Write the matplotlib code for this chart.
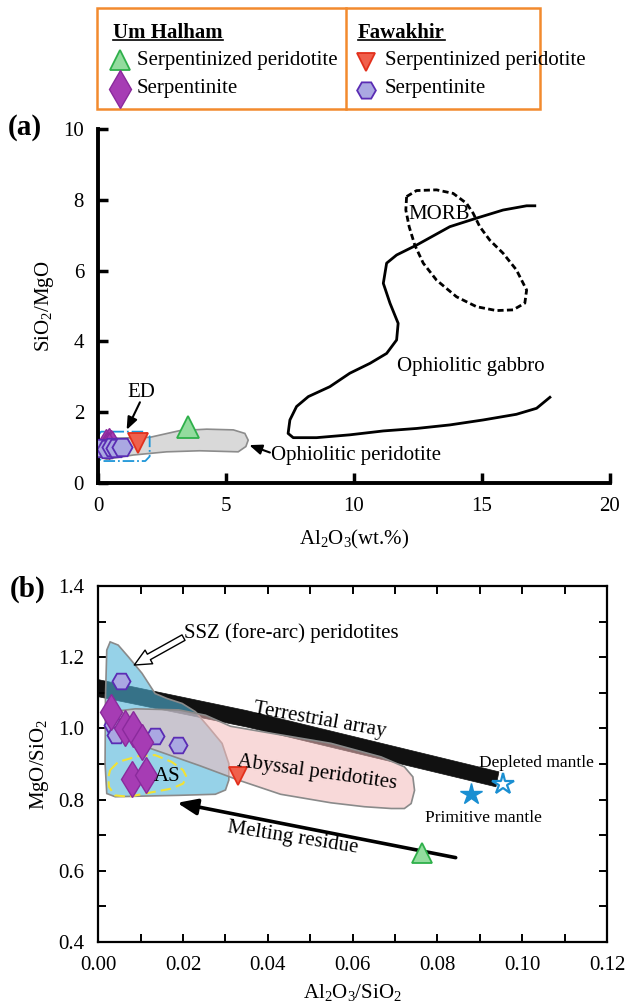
import matplotlib
matplotlib.use("Agg")
import matplotlib.pyplot as plt
from matplotlib.patches import Polygon, Rectangle
from matplotlib.lines import Line2D

plt.rcParams["font.family"] = ["Liberation Serif", "DejaVu Serif"]
plt.rcParams["mathtext.fontset"] = "custom"
plt.rcParams["mathtext.rm"] = "Liberation Serif"
plt.rcParams["mathtext.it"] = "Liberation Serif:italic"
plt.rcParams["font.size"] = 15

# ---- marker styles ----
GREEN_TRI = dict(marker="^", mfc="#93dc9e", mec="#2eb04a", mew=1.3)
RED_TRI = dict(marker="v", mfc="#f0604c", mec="#e2301c", mew=1.3)
DIAMOND = dict(marker="d", mfc="#a63cb4", mec="#8a2a9c", mew=1.0)
HEXAGON = dict(marker="H", mfc="#aaa8e2", mec="#5a2cb4", mew=1.3)

# ---- panel (a) data: Al2O3 (wt.%) vs SiO2/MgO ----
uh_sp_a_x = [3.5]
uh_sp_a_y = [1.58]
fw_sp_a_x = [1.55]
fw_sp_a_y = [1.13]
uh_s_a_x = [0.32, 0.42, 0.50, 0.38, 0.55, 0.45]
uh_s_a_y = [1.16, 1.18, 1.13, 1.08, 1.10, 1.05]
fw_s_a_x = [0.15, 0.35, 0.55, 0.72, 0.95]
fw_s_a_y = [0.98, 0.95, 1.03, 0.98, 1.03]

# fields
oph_perid_x = [0.08, 0.47, 2.03, 3.20, 4.25, 5.29, 5.74, 5.87, 5.78, 5.48, 3.98, 2.68, 1.38, 0.34, 0.08]
oph_perid_y = [1.12, 1.26, 1.29, 1.48, 1.52, 1.50, 1.40, 1.21, 1.03, 0.88, 0.91, 0.88, 0.79, 0.67, 0.74]
ed_x = [0.0, 0.0, 0.12, 1.82, 2.02, 2.02, 1.85, 0.15, 0.0]
ed_y = [0.72, 1.33, 1.45, 1.45, 1.32, 0.75, 0.62, 0.62, 0.72]
gabbro_x = [17.07, 16.75, 15.83, 14.79, 13.75, 12.45, 11.67, 11.28, 11.15, 11.41, 11.73, 11.67,
            11.28, 10.63, 9.84, 9.06, 8.22, 7.76, 7.50, 7.43, 7.63, 8.54, 9.84, 11.15, 12.45,
            13.75, 15.05, 16.35, 17.14, 17.66]
gabbro_y = [7.83, 7.83, 7.71, 7.48, 7.24, 6.72, 6.44, 6.21, 5.64, 5.08, 4.51, 4.04,
            3.66, 3.38, 3.10, 2.72, 2.44, 2.16, 1.78, 1.40, 1.28, 1.28, 1.36, 1.47, 1.54,
            1.64, 1.78, 1.94, 2.11, 2.42]
morb_x = [12.06, 12.45, 13.23, 13.88, 14.40, 14.66, 14.92, 15.31, 15.83, 16.35, 16.75, 16.68,
          16.22, 15.57, 14.79, 14.01, 13.23, 12.71, 12.38, 12.16, 12.03, 12.06]
morb_y = [8.09, 8.26, 8.28, 8.18, 7.90, 7.62, 7.24, 6.86, 6.49, 6.02, 5.45, 5.08,
          4.89, 4.87, 4.98, 5.26, 5.73, 6.21, 6.72, 7.24, 7.71, 8.09]

# ---- panel (b) data: Al2O3/SiO2 vs MgO/SiO2 ----
uh_sp_b_x = [0.0764]
uh_sp_b_y = [0.649]
fw_sp_b_x = [0.033]
fw_sp_b_y = [0.866]
uh_s_b_x = [0.0030, 0.0064, 0.0083, 0.0103, 0.0080, 0.0112]
uh_s_b_y = [1.047, 1.002, 0.998, 0.962, 0.859, 0.870]
fw_s_b_x = [0.0054, 0.0035, 0.0041, 0.0134, 0.0189]
fw_s_b_y = [1.134, 1.010, 0.981, 0.980, 0.953]
prim_mantle = (0.0878, 0.817)
depl_mantle = (0.0955, 0.845)

ssz_x = [0.0028, 0.0047, 0.0071, 0.0103, 0.0134, 0.0162, 0.0198, 0.0229, 0.0260, 0.0292,
         0.0308, 0.0308, 0.0300, 0.0276, 0.0190, 0.0110, 0.0040, 0.0020, 0.0016, 0.0017, 0.0020]
ssz_y = [1.243, 1.234, 1.201, 1.155, 1.098, 1.084, 1.070, 1.047, 1.004, 0.958,
         0.901, 0.855, 0.827, 0.815, 0.812, 0.810, 0.808, 0.817, 0.901, 1.089, 1.220]
abyssal_x = [0.0022, 0.0028, 0.0047, 0.0087, 0.0190, 0.0253, 0.0312, 0.0390, 0.0549, 0.0667,
             0.0722, 0.0742, 0.0746, 0.0738, 0.0722, 0.0691, 0.0628, 0.0549, 0.0430, 0.0330,
             0.0240, 0.0120, 0.0040]
abyssal_y = [1.000, 1.028, 1.049, 1.055, 1.052, 1.037, 1.006, 0.990, 0.958, 0.920,
             0.892, 0.864, 0.826, 0.789, 0.775, 0.775, 0.780, 0.791, 0.815, 0.855,
             0.895, 0.945, 0.985]
terr_x = [0.0, 0.035, 0.0945, 0.0938, 0.035, 0.0]
terr_y = [1.137, 1.050, 0.878, 0.836, 1.004, 1.089]
as_x = [0.0028, 0.0047, 0.0094, 0.0134, 0.0173, 0.0200, 0.0208, 0.0200, 0.0173, 0.0110,
        0.0071, 0.0039, 0.0025, 0.0024, 0.0028]
as_y = [0.883, 0.906, 0.922, 0.925, 0.906, 0.883, 0.864, 0.845, 0.831, 0.817,
        0.808, 0.812, 0.836, 0.864, 0.883]
melt_start = (0.0843, 0.637)
melt_end = (0.0186, 0.791)

fig = plt.figure(figsize=(6.28, 10.06), dpi=100)

# ================= legend box =================
axl = fig.add_axes([0.1545, 0.8917, 0.7055, 0.1003])
axl.set_xlim(0, 1)
axl.set_ylim(0, 1)
axl.axis("off")
axl.add_patch(Rectangle((0, 0), 1, 1, fill=False, ec="#f28a2e", lw=1.8,
                        transform=axl.transAxes, clip_on=False))
axl.plot([0.562, 0.562], [0, 1], color="#f28a2e", lw=1.8, clip_on=False)
headers = []
headers.append(axl.text(0.036, 0.755, "Um Halham", fontweight="bold", va="center", ha="left"))
headers.append(axl.text(0.589, 0.755, "Fawakhir", fontweight="bold", va="center", ha="left"))
axl.plot([0.052], [0.49], ms=15, ls="none", clip_on=False, **GREEN_TRI)
axl.text(0.09, 0.48, "Serpentinized peridotite", va="center")
axl.plot([0.052], [0.20], ms=19, ls="none", clip_on=False, **DIAMOND)
axl.text(0.09, 0.20, "Serpentinite", va="center")
axl.plot([0.607], [0.47], ms=13, ls="none", clip_on=False, **RED_TRI)
axl.text(0.65, 0.48, "Serpentinized peridotite", va="center")
axl.plot([0.607], [0.19], ms=13.5, ls="none", clip_on=False, **HEXAGON)
axl.text(0.65, 0.20, "Serpentinite", va="center")

fig.canvas.draw()
renderer = fig.canvas.get_renderer()
inv = axl.transAxes.inverted()
for t in headers:
    bb = t.get_window_extent(renderer)
    (x0, y0), (x1, _) = inv.transform([(bb.x0, bb.y0 + 2.5), (bb.x1, bb.y0 + 2.5)])
    axl.add_line(Line2D([x0, x1], [y0, y0], color="black", lw=1.2))

# ================= panel (a) =================
axa = fig.add_axes([0.156, 0.5199, 0.815, 0.3519])
axa.set_xlim(0, 20)
axa.set_ylim(0, 10)
axa.set_xticks([0, 5, 10, 15, 20])
axa.set_yticks([0, 2, 4, 6, 8, 10])
for s in ["top", "right"]:
    axa.spines[s].set_visible(False)
for s in ["left", "bottom"]:
    axa.spines[s].set_linewidth(2.8)
axa.tick_params(direction="in", length=7, width=2.5, labelsize=15, pad=10)
axa.set_xlabel(r"Al$_2$O$_3$(wt.%)", fontsize=15, labelpad=9)
axa.set_ylabel(r"SiO$_2$/MgO", fontsize=15, labelpad=5)

axa.add_patch(Polygon(list(zip(oph_perid_x, oph_perid_y)), closed=True,
                      fc="#d9d9d9", ec="#8c8c8c", lw=1.2, zorder=1))
axa.plot(ed_x, ed_y, color="#1e96d8", lw=1.3, ls="-.", zorder=2)
axa.plot(gabbro_x, gabbro_y, color="black", lw=2.0, zorder=2)
axa.plot(morb_x, morb_y, color="black", lw=2.0, ls=(0, (2.2, 1.2)), zorder=2)

axa.plot(uh_s_a_x, uh_s_a_y, ls="none", ms=13, zorder=4, **DIAMOND)
axa.plot(fw_s_a_x, fw_s_a_y, ls="none", ms=14.5, zorder=5, **HEXAGON)
axa.plot(fw_sp_a_x, fw_sp_a_y, ls="none", ms=14, zorder=6, **RED_TRI)
axa.plot(uh_sp_a_x, uh_sp_a_y, ls="none", ms=15.5, zorder=6, **GREEN_TRI)

axa.text(12.12, 7.57, "MORB", fontsize=15, va="center", ha="left")
axa.text(11.7, 3.29, "Ophiolitic gabbro", fontsize=15, va="center", ha="left")
axa.text(6.78, 0.79, "Ophiolitic peridotite", fontsize=15, va="center", ha="left")
axa.annotate("", xy=(5.91, 1.07), xytext=(6.72, 0.86),
             arrowprops=dict(arrowstyle="-|>,head_length=0.5,head_width=0.2",
                             color="black", lw=1.5, shrinkA=0, shrinkB=0))
axa.text(1.7, 2.55, "ED", fontsize=15, va="center", ha="center")
axa.annotate("", xy=(1.12, 1.50), xytext=(1.64, 2.28),
             arrowprops=dict(arrowstyle="-|>,head_length=0.5,head_width=0.2",
                             color="black", lw=1.5, shrinkA=0, shrinkB=0))
fig.text(0.013, 0.873, "(a)", fontsize=21, fontweight="bold", va="center", ha="left")

# ================= panel (b) =================
axb = fig.add_axes([0.1565, 0.0636, 0.8101, 0.3539])
axb.set_xlim(0, 0.12)
axb.set_ylim(0.4, 1.4)
axb.set_xticks([0.00, 0.02, 0.04, 0.06, 0.08, 0.10, 0.12])
axb.set_xticks([0.01, 0.03, 0.05, 0.07, 0.09, 0.11], minor=True)
axb.set_yticks([0.4, 0.6, 0.8, 1.0, 1.2, 1.4])
axb.set_yticks([0.5, 0.7, 0.9, 1.1, 1.3], minor=True)
axb.set_xticklabels(["0.00", "0.02", "0.04", "0.06", "0.08", "0.10", "0.12"])
axb.set_yticklabels(["0.4", "0.6", "0.8", "1.0", "1.2", "1.4"])
for s in axb.spines.values():
    s.set_linewidth(1.6)
axb.tick_params(which="both", direction="in", length=6, width=1.4, top=True, right=True,
                labelsize=15, pad=10)
axb.set_xlabel(r"Al$_2$O$_3$/SiO$_2$", fontsize=15, labelpad=5)
axb.set_ylabel(r"MgO/SiO$_2$", fontsize=15, labelpad=5)

axb.add_patch(Polygon(list(zip(terr_x, terr_y)), closed=True, fc="#111111", ec="#111111",
                      lw=0.5, zorder=1))
axb.add_patch(Polygon(list(zip(ssz_x, ssz_y)), closed=True, fc="#50b4d9", alpha=0.6,
                      ec="none", zorder=2))
axb.add_patch(Polygon(list(zip(ssz_x, ssz_y)), closed=True, fill=False, ec="#8a8a8a",
                      lw=1.2, zorder=2))
axb.add_patch(Polygon(list(zip(abyssal_x, abyssal_y)), closed=True, fc="#f4bbbb", alpha=0.55,
                      ec="none", zorder=3))
axb.add_patch(Polygon(list(zip(abyssal_x, abyssal_y)), closed=True, fill=False, ec="#8a8a8a",
                      lw=1.2, zorder=3))
axb.plot(as_x, as_y, color="#f2e234", lw=1.5, ls=(0, (5, 2.5)), zorder=4)

axb.annotate("", xy=melt_end, xytext=melt_start,
             arrowprops=dict(arrowstyle="-|>,head_length=0.8,head_width=0.32",
                             color="black", lw=2.6, shrinkA=0, shrinkB=0), zorder=4)

axb.plot(fw_s_b_x, fw_s_b_y, ls="none", ms=13, zorder=5, **HEXAGON)
axb.plot(uh_s_b_x, uh_s_b_y, ls="none", ms=18, zorder=6, **DIAMOND)
axb.plot(fw_sp_b_x, fw_sp_b_y, ls="none", ms=13.5, zorder=7, **RED_TRI)
axb.plot(uh_sp_b_x, uh_sp_b_y, ls="none", ms=15, zorder=7, **GREEN_TRI)
axb.plot([prim_mantle[0]], [prim_mantle[1]], ls="none", marker="*", ms=16,
         mfc="#1a8fd2", mec="#1a8fd2", zorder=7)
axb.plot([depl_mantle[0]], [depl_mantle[1]], ls="none", marker="*", ms=16,
         mfc="white", mec="#1a8fd2", mew=1.6, zorder=7)

axb.text(0.0203, 1.268, "SSZ (fore-arc) peridotites", fontsize=15, va="center", ha="left")
axb.annotate("", xy=(0.0085, 1.178), xytext=(0.0201, 1.255),
             arrowprops=dict(arrowstyle="simple,head_length=0.8,head_width=0.75,tail_width=0.3",
                             fc="white", ec="black", lw=1.0, shrinkA=0, shrinkB=0), zorder=8)
axb.text(0.052, 1.01, "Terrestrial array", fontsize=15, rotation=-10,
         ha="center", va="baseline", rotation_mode="anchor")
axb.text(0.0514, 0.862, "Abyssal peridotites", fontsize=15, rotation=-8,
         ha="center", va="baseline", rotation_mode="anchor", zorder=8)
axb.text(0.0458, 0.681, "Melting residue", fontsize=15, rotation=-9,
         ha="center", va="baseline", rotation_mode="anchor")
axb.text(0.0132, 0.864, "AS", fontsize=15, ha="left", va="center", zorder=8)
axb.text(0.0899, 0.904, "Depleted mantle", fontsize=12.5, ha="left", va="center")
axb.text(0.0908, 0.747, "Primitive mantle", fontsize=12.5, ha="center", va="center")
fig.text(0.016, 0.414, "(b)", fontsize=21, fontweight="bold", va="center", ha="left")

fig.savefig("out.png", dpi=100)
